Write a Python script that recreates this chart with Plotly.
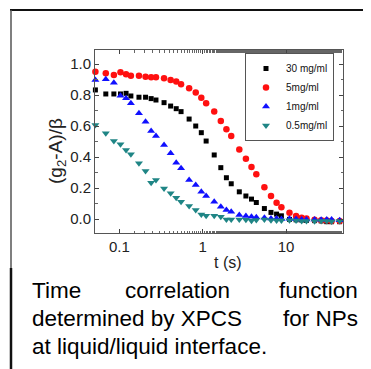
import plotly.graph_objects as go

# ---- data ----
t_s = [0.0516, 0.0688, 0.086, 0.1032, 0.1204, 0.1376, 0.172, 0.2064, 0.2408, 0.2752,
       0.344, 0.4128, 0.4816, 0.5504, 0.688, 0.8256, 0.9632, 1.1008, 1.376, 1.6512,
       1.9264, 2.2016, 2.752, 3.3024, 3.8528, 4.4032, 5.504, 6.6048, 7.7056, 8.8064,
       11.008, 13.21, 15.41, 17.61, 22.02, 26.42, 30.83, 35.23, 44.03]

g_30 = [0.834, 0.808, 0.808, 0.808, 0.812, 0.795, 0.787, 0.787, 0.778, 0.769,
        0.752, 0.730, 0.713, 0.694, 0.646, 0.601, 0.558, 0.504, 0.414, 0.332,
        0.267, 0.228, 0.176, 0.149, 0.129, 0.107, 0.068, 0.043, 0.032, 0.021,
        -0.002, -0.005, -0.006, -0.008, -0.010, -0.012, -0.017, -0.017, -0.017]

g_5 = [0.952, 0.942, 0.931, 0.948, 0.935, 0.926, 0.926, 0.920, 0.916, 0.916,
       0.909, 0.898, 0.888, 0.871, 0.845, 0.817, 0.784, 0.748, 0.694, 0.633,
       0.580, 0.537, 0.450, 0.390, 0.336, 0.289, 0.206, 0.149, 0.105, 0.076,
       0.041, 0.019, 0.008, 0.004, -0.005, -0.008, -0.010, -0.012, -0.013]

g_1 = [0.899, 0.903, 0.881, 0.797, 0.780, 0.748, 0.683, 0.629, 0.569, 0.537,
       0.478, 0.425, 0.364, 0.328, 0.252, 0.220, 0.176, 0.149, 0.112, 0.080,
       0.058, 0.047, 0.026, 0.019, 0.015, 0.011, 0.008, 0.004, 0.003, 0.001,
       0.002, 0.000, -0.002, -0.003, -0.002, -0.004, -0.003, -0.002, -0.008]

g_05 = [0.608, 0.554, 0.504, 0.483, 0.446, 0.418, 0.360, 0.310, 0.235, 0.252,
        0.198, 0.166, 0.138, 0.112, 0.084, 0.058, 0.030, 0.021, 0.021, 0.015,
        -0.002, -0.002, -0.002, -0.004, -0.011, -0.006, -0.002, -0.008, -0.010, -0.010,
        -0.008, -0.010, -0.012, -0.012, -0.014, -0.012, -0.012, -0.015, -0.013]

series_names = ["30 mg/ml", "5mg/ml", "1mg/ml", "0.5mg/ml"]
x_tick_vals = [0.1, 1, 10]
x_tick_text = ["0.1", "1", "10"]
x_title = "t (s)"
y_title = "(g<sub>2</sub>-A)/β"
caption_words = [["Time", "correlation", "function"],
                 ["determined by XPCS", "for NPs"],
                 ["at liquid/liquid interface."]]

# ---- layout geometry (page pixels; the page body adds an 8px offset) ----
OFF = 8
PAGE_W, PAGE_H = 371, 369
W, H = PAGE_W - OFF, PAGE_H - OFF
PLOT_L, PLOT_R, PLOT_T, PLOT_B = 95, 343, 50, 233   # plot area in page pixels
L = PLOT_L - OFF
T = PLOT_T - OFF
R = W - (PLOT_R - OFF)
B = H - (PLOT_B - OFF)
pw, ph = PLOT_R - PLOT_L, PLOT_B - PLOT_T


def px_x(px):
    return (px - PLOT_L) / pw


def px_y(py):
    return (PLOT_B - py) / ph


styles = [
    dict(symbol="square", size=5, color="#000000"),
    dict(symbol="circle", size=6.5, color="#ff1010"),
    dict(symbol="triangle-up", size=7, color="#1010ff"),
    dict(symbol="triangle-down", size=7, color="#1f8585"),
]
series = [g_30, g_5, g_1, g_05]

fig = go.Figure()
for name, ys, st in zip(series_names, series, styles):
    fig.add_trace(go.Scatter(
        x=t_s, y=ys, name=name, mode="markers", cliponaxis=False,
        marker=dict(symbol=st["symbol"], size=st["size"], color=st["color"],
                    line=dict(width=0)),
    ))

FONT = "Liberation Sans, Arial, sans-serif"
axis_font = dict(family=FONT, size=15, color="#222222")

fig.update_layout(
    width=W, height=H,
    margin=dict(l=L, r=R, t=T, b=B, pad=0),
    paper_bgcolor="white", plot_bgcolor="white",
    font=dict(family=FONT, color="#111111"),
    showlegend=True,
    legend=dict(
        x=px_x(334), y=px_y(53), xanchor="right", yanchor="top",
        bgcolor="white", bordercolor="#555555", borderwidth=1,
        font=dict(family="Liberation Sans Narrow, Arial Narrow, Liberation Sans, sans-serif",
                  size=10, color="#111111"),
        itemwidth=30, tracegroupgap=0,
    ),
    xaxis=dict(
        type="log", range=[-1.292, 1.684],
        tickvals=x_tick_vals, ticktext=x_tick_text,
        ticks="inside", ticklen=4, tickcolor="#444444",
        minor=dict(ticks="inside", ticklen=2.5, tickcolor="#666666", showgrid=False),
        showline=True, linecolor="#555555", linewidth=1, mirror="ticks",
        showgrid=False, zeroline=False, automargin=False,
        tickfont=axis_font,
    ),
    yaxis=dict(
        range=[-0.09, 1.092], dtick=0.2, tick0=0, tickformat=".1f",
        ticks="inside", ticklen=4, tickcolor="#444444",
        minor=dict(ticks="inside", ticklen=2.5, dtick=0.1, tickcolor="#666666", showgrid=False),
        showline=True, linecolor="#555555", linewidth=1, mirror="ticks",
        showgrid=False, zeroline=False, automargin=False,
        tickfont=axis_font,
    ),
)

# axis titles placed at their exact positions
fig.add_annotation(text=x_title, xref="paper", yref="paper",
                   x=px_x(228), y=px_y(262), xanchor="center", yanchor="middle",
                   showarrow=False, font=dict(family=FONT, size=16, color="#222222"))
fig.add_annotation(text=y_title, xref="paper", yref="paper", textangle=-90,
                   x=px_x(57), y=px_y(151), xanchor="center", yanchor="middle",
                   showarrow=False, font=dict(family=FONT, size=19, color="#222222"))

# frame lines around the panel
fig.add_shape(type="line", xref="paper", yref="paper",
              x0=px_x(10), x1=px_x(371), y0=px_y(10), y1=px_y(10),
              line=dict(color="#111111", width=2))
fig.add_shape(type="line", xref="paper", yref="paper",
              x0=px_x(11), x1=px_x(11), y0=px_y(10), y1=px_y(268),
              line=dict(color="#555555", width=1.5))
fig.add_shape(type="line", xref="paper", yref="paper",
              x0=px_x(11), x1=px_x(11), y0=px_y(268), y1=px_y(369),
              line=dict(color="#111111", width=2.5))

# caption (justified layout)
cap_font = dict(family=FONT, size=22.5, color="#000000")
line_y = [290, 318, 346]
positions = [[(30, "left"), (123, "left"), (360, "right")],
             [(30, "left"), (360, "right")],
             [(30, "left")]]
for words, pos, yy in zip(caption_words, positions, line_y):
    for w, (xx, anc) in zip(words, pos):
        fig.add_annotation(text=w, xref="paper", yref="paper",
                           x=px_x(xx), y=px_y(yy), xanchor=anc, yanchor="middle",
                           showarrow=False, font=cap_font)

fig.write_html("out.html")
